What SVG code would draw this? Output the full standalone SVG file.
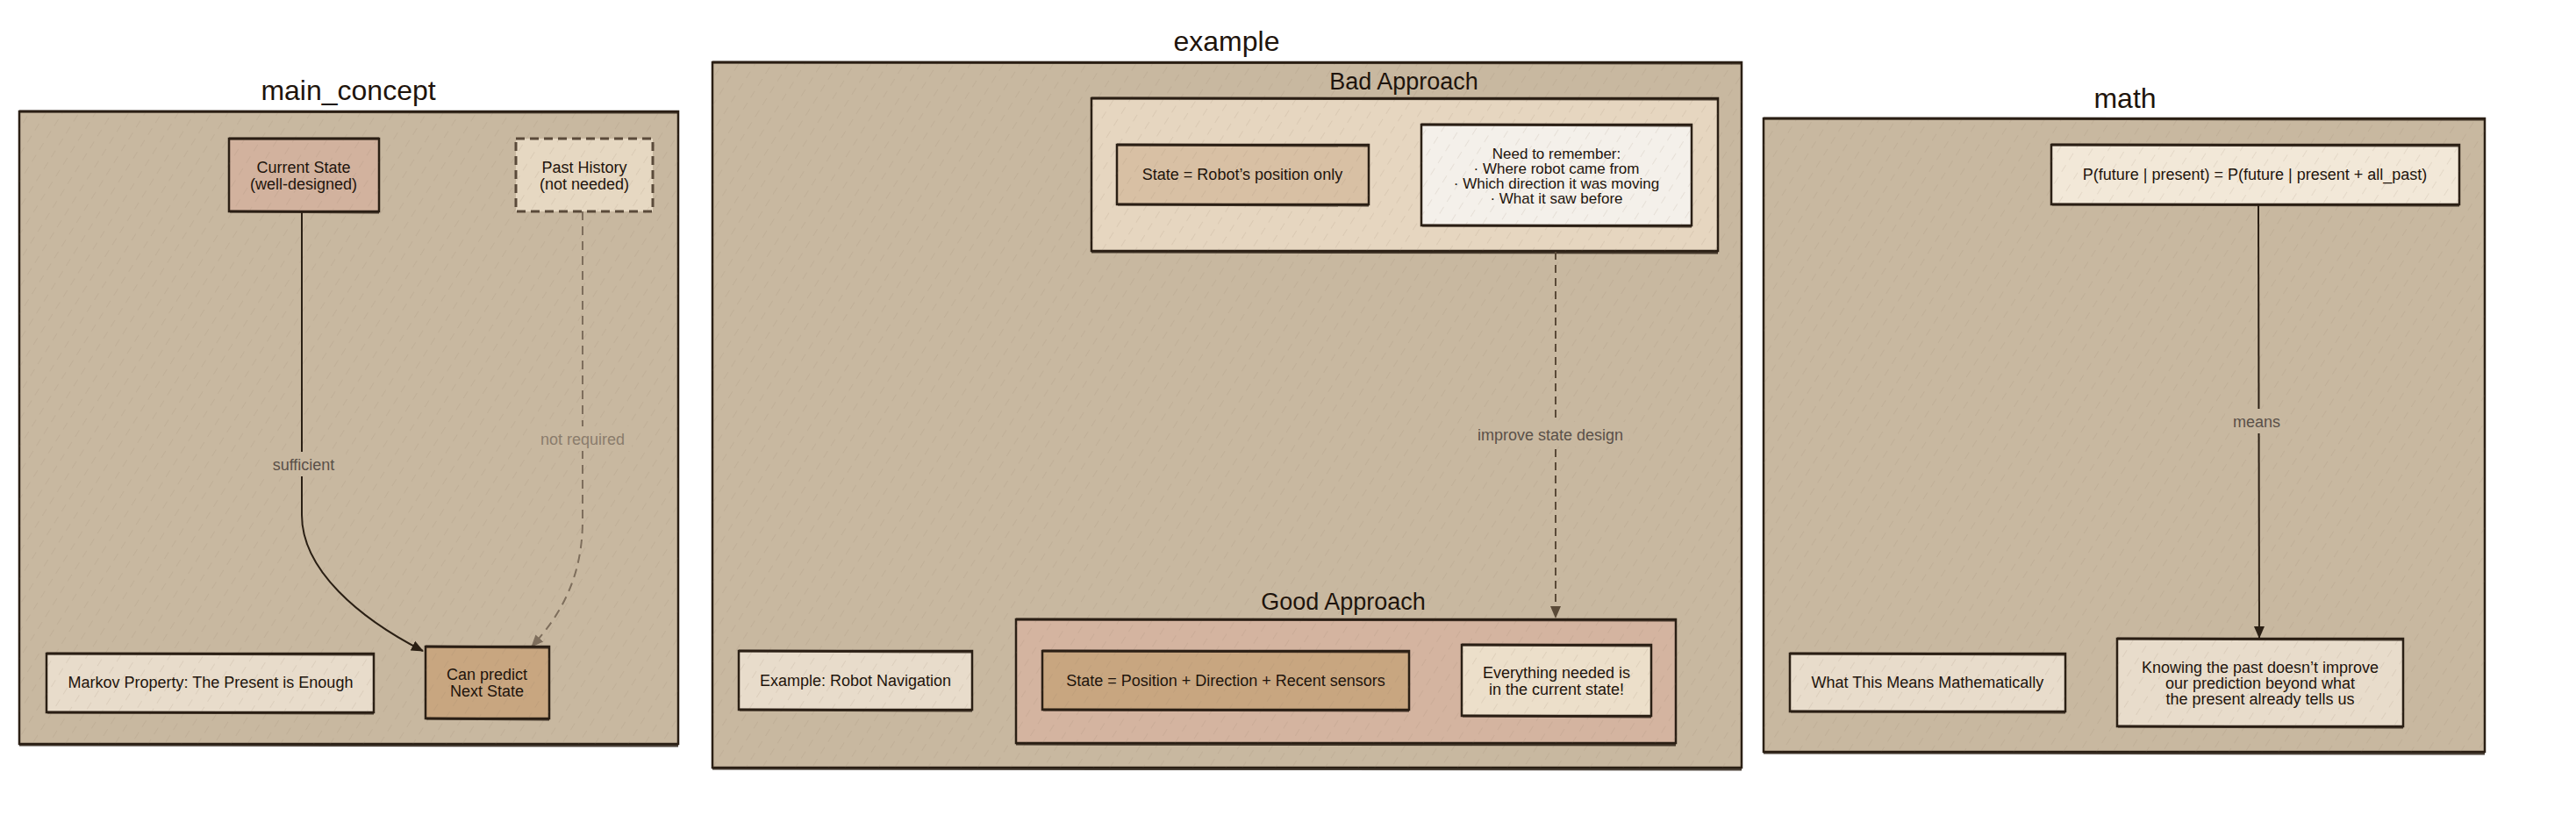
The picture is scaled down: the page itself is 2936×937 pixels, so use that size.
<svg xmlns="http://www.w3.org/2000/svg" width="2936" height="937" viewBox="0 0 2936 937">
<defs>
  <pattern id="hatch" width="16" height="16" patternUnits="userSpaceOnUse" patternTransform="rotate(32)">
    <line x1="0" y1="0" x2="0" y2="16" stroke="#8a7860" stroke-width="0.8" stroke-dasharray="9 7" opacity="0.35"/>
  </pattern>
  <marker id="ah" markerWidth="14" markerHeight="14" viewBox="0 0 14 14" refX="13" refY="7" orient="auto" markerUnits="userSpaceOnUse">
    <path d="M0,1 L14,7 L0,13 Z" fill="#2a1f14"/>
  </marker>
  <marker id="ahg" markerWidth="14" markerHeight="14" viewBox="0 0 14 14" refX="13" refY="7" orient="auto" markerUnits="userSpaceOnUse">
    <path d="M0,1 L14,7 L0,13 Z" fill="#7e6e5c"/>
  </marker>
  <marker id="ahb" markerWidth="14" markerHeight="14" viewBox="0 0 14 14" refX="13" refY="7" orient="auto" markerUnits="userSpaceOnUse">
    <path d="M0,1 L14,7 L0,13 Z" fill="#5a4a38"/>
  </marker>
</defs>
<style>
  .panel { fill: #c8b8a0; stroke: #2a1f14; stroke-width: 2.5; }
  .hatch { fill: url(#hatch); stroke: none; }
  .node { stroke: #2a1f14; stroke-width: 2.5; }
  .edge-under { fill: none; stroke: #2a1f14; stroke-width: 3; opacity: 0.85; }
  .title { font-family: "Liberation Sans", Arial, sans-serif; font-size: 32px; fill: #1e140c; text-anchor: middle; }
  .subtitle { font-family: "Liberation Sans", Arial, sans-serif; font-size: 27px; fill: #1e140c; text-anchor: middle; }
  .t { font-family: "Liberation Sans", Arial, sans-serif; font-size: 18px; fill: #1e140c; text-anchor: middle; }
  .ts { font-size: 17px; }
  .lbl { font-family: "Liberation Sans", Arial, sans-serif; font-size: 18px; fill: #5a5048; text-anchor: middle; }
  .lblbg { fill: #c8b8a0; }
</style>
<rect x="0" y="0" width="2936" height="937" fill="#ffffff"/>

<!-- Panels -->
<g id="main_concept">
  <rect class="panel" x="22" y="127" width="751" height="721"/>
  <rect class="hatch" x="22" y="127" width="751" height="721"/>
  <path class="edge-under" d="M22,127 L773,128 M22,849 L773,850"/>
  <text class="title" x="397" y="114">main_concept</text>
</g>
<g id="example">
  <rect class="panel" x="812" y="71" width="1173" height="804"/>
  <rect class="hatch" x="812" y="71" width="1173" height="804"/>
  <path class="edge-under" d="M812,71 L1985,72 M812,876 L1985,877"/>
  <text class="title" x="1398" y="58">example</text>
</g>
<g id="bad_approach">
  <rect x="1244" y="112" width="714" height="174" fill="#e6d6c0" stroke="#2a1f14" stroke-width="2.5"/>
  <rect class="hatch" x="1244" y="112" width="714" height="174"/>
  <path class="edge-under" d="M1244,112 L1958,113 M1244,287 L1958,288"/>
  <text class="subtitle" x="1600" y="102">Bad Approach</text>
</g>
<g id="good_approach">
  <rect x="1158" y="706" width="752" height="141" fill="#d4b4a0" stroke="#2a1f14" stroke-width="2.5"/>
  <rect class="hatch" x="1158" y="706" width="752" height="141"/>
  <path class="edge-under" d="M1158,706 L1910,707 M1158,848 L1910,849"/>
  <text class="subtitle" x="1531" y="695">Good Approach</text>
</g>
<g id="math">
  <rect class="panel" x="2010" y="135" width="822" height="722"/>
  <rect class="hatch" x="2010" y="135" width="822" height="722"/>
  <path class="edge-under" d="M2010,135 L2832,136 M2010,858 L2832,859"/>
  <text class="title" x="2422" y="123">math</text>
</g>

<!-- Connectors -->
<g id="connectors">
  <path d="M344,241 L344,587 C344,650 410,705 482,742" fill="none" stroke="#2a1f14" stroke-width="2" marker-end="url(#ah)"/>
  <rect class="lblbg" x="298" y="515" width="96" height="28"/>
  <text class="lbl" x="346" y="536">sufficient</text>

  <path d="M664,241 L664,593 C664,650 645,695 606,737" fill="none" stroke="#7e6e5c" stroke-width="2" stroke-dasharray="10 7" marker-end="url(#ahg)"/>
  <rect class="lblbg" x="608" y="486" width="112" height="28"/>
  <text class="lbl" x="664" y="507" style="fill:#8a7c6c">not required</text>

  <path d="M1773,287 L1773,704" fill="none" stroke="#5a4a38" stroke-width="2" stroke-dasharray="9 6" marker-end="url(#ahb)"/>
  <rect class="lblbg" x="1680" y="481" width="176" height="28"/>
  <text class="lbl" x="1767" y="502">improve state design</text>

  <path d="M2574,233 L2575,727" fill="none" stroke="#2a1f14" stroke-width="2" marker-end="url(#ah)"/>
  <rect class="lblbg" x="2542" y="466" width="62" height="28"/>
  <text class="lbl" x="2572" y="487">means</text>
</g>

<!-- Nodes -->
<g id="current_state">
  <rect class="node" x="261" y="158" width="171" height="83" fill="#d2b29e"/>
  <rect class="hatch" x="261" y="158" width="171" height="83"/>
  <path class="edge-under" d="M261,158 L432,158 M262,241 L432,242"/>
  <text class="t" x="346" y="197">Current State</text>
  <text class="t" x="346" y="216">(well-designed)</text>
</g>
<g id="past_history">
  <rect x="588" y="158" width="156" height="83" fill="#e6d8c2" stroke="#5a4a3a" stroke-width="3" stroke-dasharray="10 6"/>
  <rect class="hatch" x="588" y="158" width="156" height="83"/>
  <text class="t" x="666" y="197">Past History</text>
  <text class="t" x="666" y="216">(not needed)</text>
</g>
<g id="can_predict">
  <rect class="node" x="485" y="737" width="141" height="82" fill="#c8a680"/>
  <rect class="hatch" x="485" y="737" width="141" height="82"/>
  <path class="edge-under" d="M485,737 L626,738 M486,819 L626,820"/>
  <text class="t" x="555" y="775">Can predict</text>
  <text class="t" x="555" y="794">Next State</text>
</g>
<g id="markov">
  <rect class="node" x="53" y="745" width="373" height="67" fill="#e8dccb"/>
  <rect class="hatch" x="53" y="745" width="373" height="67"/>
  <path class="edge-under" d="M53,745 L426,746 M54,812 L426,813"/>
  <text class="t" x="240" y="784">Markov Property: The Present is Enough</text>
</g>
<g id="robot_position">
  <rect class="node" x="1273" y="165" width="287" height="68" fill="#d8c0a4"/>
  <rect class="hatch" x="1273" y="165" width="287" height="68"/>
  <path class="edge-under" d="M1273,165 L1560,166 M1274,233 L1560,234"/>
  <text class="t" x="1416" y="205">State = Robot’s position only</text>
</g>
<g id="need_remember">
  <rect class="node" x="1620" y="142" width="308" height="115" fill="#f4f0ea"/>
  <rect class="hatch" x="1620" y="142" width="308" height="115"/>
  <path class="edge-under" d="M1620,142 L1928,143 M1621,257 L1928,258"/>
  <text class="t ts" x="1774" y="181">Need to remember:</text>
  <text class="t ts" x="1774" y="198">· Where robot came from</text>
  <text class="t ts" x="1774" y="215">· Which direction it was moving</text>
  <text class="t ts" x="1774" y="232">· What it saw before</text>
</g>
<g id="robot_nav">
  <rect class="node" x="842" y="742" width="266" height="67" fill="#e8dccb"/>
  <rect class="hatch" x="842" y="742" width="266" height="67"/>
  <path class="edge-under" d="M842,742 L1108,743 M843,809 L1108,810"/>
  <text class="t" x="975" y="782">Example: Robot Navigation</text>
</g>
<g id="state_full">
  <rect class="node" x="1188" y="742" width="418" height="67" fill="#c8a680"/>
  <rect class="hatch" x="1188" y="742" width="418" height="67"/>
  <path class="edge-under" d="M1188,742 L1606,743 M1189,809 L1606,810"/>
  <text class="t" x="1397" y="782">State = Position + Direction + Recent sensors</text>
</g>
<g id="everything_needed">
  <rect class="node" x="1666" y="735" width="216" height="81" fill="#ecdfca"/>
  <rect class="hatch" x="1666" y="735" width="216" height="81"/>
  <path class="edge-under" d="M1666,735 L1882,736 M1667,816 L1882,817"/>
  <text class="t" x="1774" y="773">Everything needed is</text>
  <text class="t" x="1774" y="792">in the current state!</text>
</g>
<g id="formula">
  <rect class="node" x="2338" y="165" width="465" height="68" fill="#f2e8d8"/>
  <rect class="hatch" x="2338" y="165" width="465" height="68"/>
  <path class="edge-under" d="M2338,165 L2803,166 M2339,233 L2803,234"/>
  <text class="t" x="2570" y="205">P(future | present) = P(future | present + all_past)</text>
</g>
<g id="what_means">
  <rect class="node" x="2040" y="745" width="314" height="66" fill="#e8dccb"/>
  <rect class="hatch" x="2040" y="745" width="314" height="66"/>
  <path class="edge-under" d="M2040,745 L2354,746 M2041,811 L2354,812"/>
  <text class="t" x="2197" y="784">What This Means Mathematically</text>
</g>
<g id="knowing">
  <rect class="node" x="2413" y="728" width="326" height="100" fill="#e8dccb"/>
  <rect class="hatch" x="2413" y="728" width="326" height="100"/>
  <path class="edge-under" d="M2413,728 L2739,729 M2414,828 L2739,829"/>
  <text class="t" x="2576" y="767">Knowing the past doesn’t improve</text>
  <text class="t" x="2576" y="785">our prediction beyond what</text>
  <text class="t" x="2576" y="803">the present already tells us</text>
</g>
</svg>
